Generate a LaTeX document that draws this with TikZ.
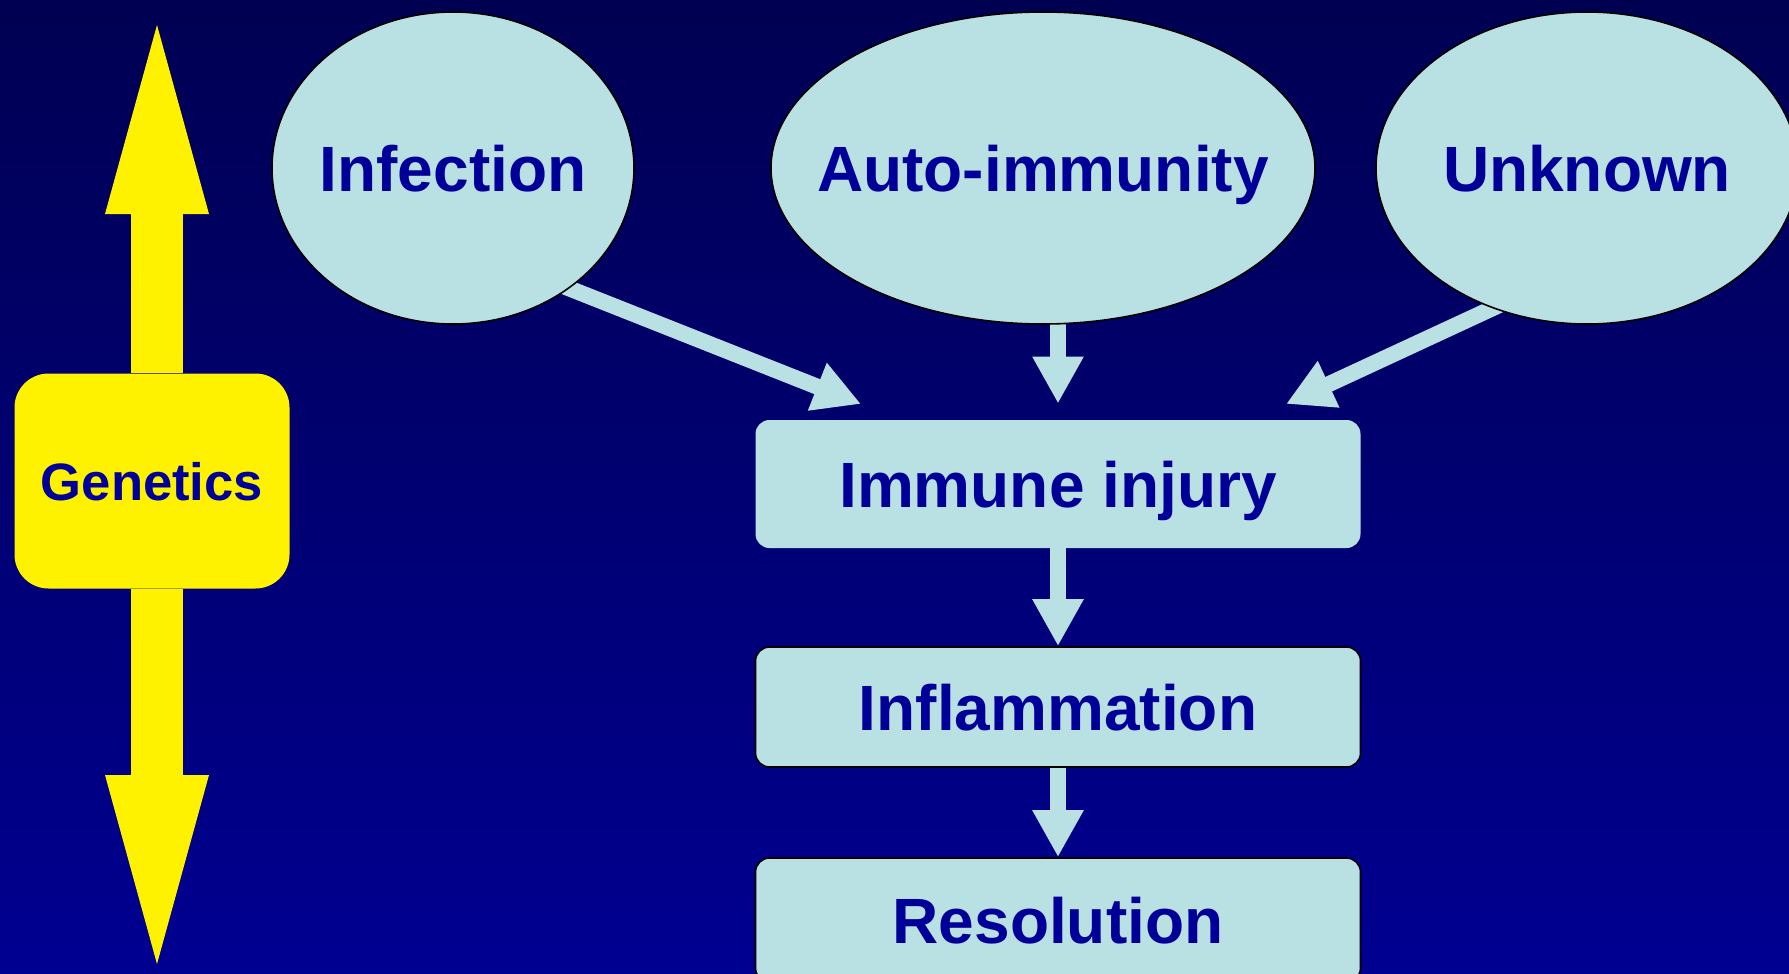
\documentclass[tikz,border=0pt]{standalone}
\usepackage{fontspec}
\setmainfont{Liberation Sans}
\usetikzlibrary{shapes.geometric,arrows.meta,calc}
\definecolor{bgtop}{RGB}{0,0,82}
\definecolor{bgbot}{RGB}{0,0,145}
\definecolor{pale}{RGB}{185,224,226}
\definecolor{ink}{RGB}{0,0,153}
\newcommand{\zw}[1]{\smash{\raisebox{-0.36em}{\makebox[0pt]{#1}}}}
\pgfdeclarelayer{bg}
\pgfsetlayers{bg,main}
\begin{document}
\begin{tikzpicture}[x=0.5pt,y=-0.5pt,
  bigfont/.style={font=\fontsize{32}{38}\selectfont\bfseries},
  oval/.style={ellipse, draw=black, line width=0.8pt, fill=pale, inner sep=0pt,
    text=ink, bigfont, minimum height=156pt},
  stage/.style={rectangle, rounded corners=7pt, fill=pale, text=ink, bigfont,
    minimum width=302.5pt, inner sep=0pt, text height=23pt, text depth=0pt},
  genbox/.style={rectangle, rounded corners=17pt, fill=yellow, text=ink,
    font=\fontsize{26.3}{30}\selectfont\bfseries, minimum width=137.5pt,
    minimum height=107.5pt, inner sep=0pt, text height=19pt, text depth=0pt},
  flow/.style={draw=pale, line width=8pt, -{Triangle[width=24pt,length=23.5pt]}},
  garrow/.style={draw=yellow, line width=26pt, -{Triangle[width=52pt,length=94.5pt,line width=0pt]}}]
\useasboundingbox (0,0) rectangle (1789,974);
\begin{pgfonlayer}{bg}
\shade[top color=bgtop, bottom color=bgbot] (0,0) rectangle (1789,974);
\end{pgfonlayer}
\clip (0,0) rectangle (1789,974);

% causes
\node[oval, minimum width=181pt] (inf) at (453,168) {\zw{Infection}};
\node[oval, minimum width=272pt] (auto) at (1043,168) {\zw{Auto-immunity}};
\node[oval, minimum width=211pt] (unk) at (1587,168) {\zw{Unknown}};

% stages
\node[stage, minimum height=64pt] (imm) at (1058,484) {Immune injury};
\node[stage, draw=black, line width=0.8pt, minimum height=60pt] (infl) at (1058,707) {Inflammation};
\node[stage, draw=black, line width=0.8pt, minimum height=62pt] (res) at (1058,920) {Resolution};

% genetics
\coordinate (gtop) at (157,25);
\coordinate (gbot) at (157,964);
\node[genbox] (gen) at (152,481) {Genetics};
\draw[garrow] (gen.north -| gtop) -- (gtop);
\draw[garrow] (gen.south -| gbot) -- (gbot);

% connectors
\coordinate (tipL) at (861,404);
\coordinate (tipR) at (1286,404);
\begin{pgfonlayer}{bg}
\draw[flow] ($(inf.-46)!-20pt!(tipL)$) -- (tipL);
\draw[flow] ($(unk.-124)!-20pt!(tipR)$) -- (tipR);
\draw[flow, shorten >=8pt] ($(auto.south -| imm)+(0,-20)$) -- (imm.north);
\end{pgfonlayer}
\draw[flow] (imm.south) -- (infl.north);
\draw[flow] (infl.south) -- (res.north);
\end{tikzpicture}
\end{document}
